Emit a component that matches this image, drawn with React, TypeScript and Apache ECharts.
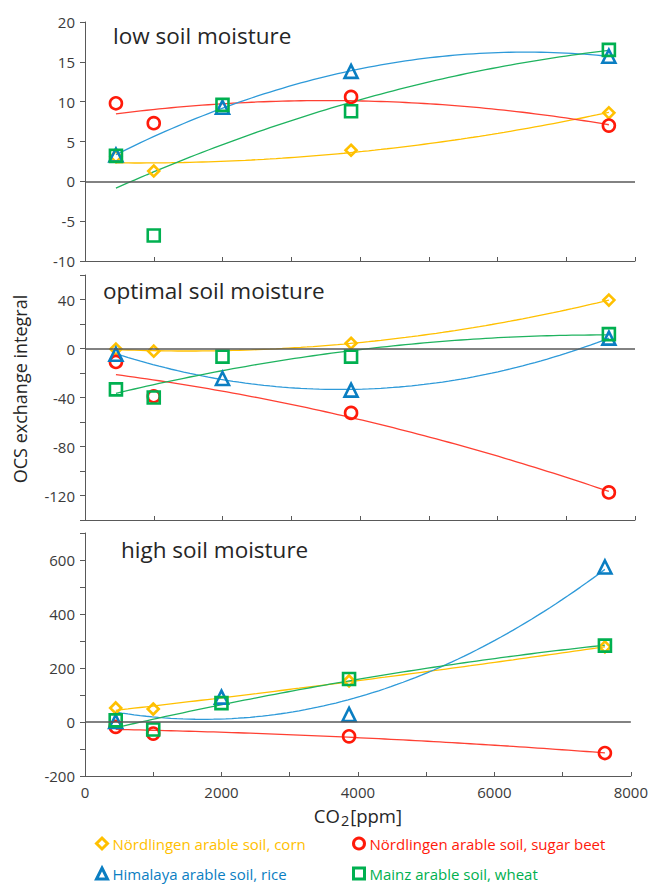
import React, { useEffect, useRef } from "react";
import * as echarts from "echarts";

// CO2 levels (ppm) at which each soil was measured
const co2Corn = [450, 1000, 3870, 7620];
const co2Beet = [450, 1000, 3870, 7620];
const co2Rice = [450, 2000, 3870, 7620];
const co2Wheat = [450, 1000, 2000, 3870, 7620];

// low soil moisture
const lowCorn = [3.1, 1.3, 3.9, 8.6];
const lowBeet = [9.8, 7.3, 10.6, 7.0];
const lowRice = [3.3, 9.3, 13.8, 15.7];
const lowWheat = [3.2, -6.8, 9.6, 8.8, 16.5];

// optimal soil moisture
const optCorn = [-0.5, -2.2, 4.3, 39.5];
const optBeet = [-11, -39, -52.6, -117.5];
const optRice = [-4.7, -24.5, -34, 8.5];
const optWheat = [-33.4, -40, -6.6, -6.6, 11.7];

// high soil moisture
const highCorn = [52, 48, 152, 278];
const highBeet = [-18, -43, -53, -115];
const highRice = [2, 92, 28, 574];
const highWheat = [6, -28, 70, 159, 283];

const panelTitles = ["low soil moisture", "optimal soil moisture", "high soil moisture"];
const xTicks = [0, 2000, 4000, 6000, 8000];

const names = [
  "Nördlingen arable soil, corn",
  "Nördlingen arable soil, sugar beet",
  "Himalaya arable soil, rice",
  "Mainz arable soil, wheat",
];

const FONT = "Open Sans";
const markerColors = ["#FFC000", "#FF1A0A", "#0A7EC2", "#00B050"];
const lineColors = ["#FFC000", "#FF4033", "#2E9AD9", "#1FB35F"];
const symbols = ["diamond", "circle", "triangle", "rect"];
const symbolSizes = [11, 12, 13, 12];

// quadratic least-squares trend line (Excel-style polynomial trendline)
function quadFit(xs: number[], ys: number[]) {
  const s = [0, 0, 0, 0, 0];
  const t = [0, 0, 0];
  xs.forEach((x0, i) => {
    const x = x0 / 1000;
    let p = 1;
    for (let k = 0; k < 5; k++) {
      s[k] += p;
      if (k < 3) t[k] += p * ys[i];
      p *= x;
    }
  });
  const M = [
    [s[0], s[1], s[2], t[0]],
    [s[1], s[2], s[3], t[1]],
    [s[2], s[3], s[4], t[2]],
  ];
  for (let c = 0; c < 3; c++) {
    let piv = c;
    for (let r = c + 1; r < 3; r++) if (Math.abs(M[r][c]) > Math.abs(M[piv][c])) piv = r;
    [M[c], M[piv]] = [M[piv], M[c]];
    for (let r = 0; r < 3; r++) {
      if (r === c) continue;
      const f = M[r][c] / M[c][c];
      for (let k = c; k < 4; k++) M[r][k] -= f * M[c][k];
    }
  }
  const a = M.map((row, i) => row[3] / row[i]);
  const xmin = Math.min(...xs);
  const xmax = Math.max(...xs);
  const out: number[][] = [];
  const N = 80;
  for (let i = 0; i <= N; i++) {
    const x = xmin + ((xmax - xmin) * i) / N;
    const u = x / 1000;
    out.push([x, a[0] + a[1] * u + a[2] * u * u]);
  }
  return out;
}

const pair = (xs: number[], ys: number[]) => xs.map((x, i) => [x, ys[i]]);

export default function App() {
  const ref = useRef<HTMLDivElement>(null);
  useEffect(() => {
    document.body.style.margin = "0";
    if (!ref.current) return;
    const chart = echarts.init(ref.current, undefined, { renderer: "svg" });
    const xsAll = [co2Corn, co2Beet, co2Rice, co2Wheat];
    const panels = [
      [lowCorn, lowBeet, lowRice, lowWheat],
      [optCorn, optBeet, optRice, optWheat],
      [highCorn, highBeet, highRice, highWheat],
    ];
    const grids = [
      { left: 85, width: 550, top: 22, height: 239 },
      { left: 85, width: 550, top: 275, height: 245 },
      { left: 85, width: 550, top: 533, height: 243 },
    ];
    const axisColor = "#595959";
    const labelStyle = { fontSize: 15, color: "#3a3a3a", fontFamily: FONT };
    const xAxis = grids.map((_, i) => ({
      type: "value",
      gridIndex: i,
      min: 0,
      max: 8000,
      interval: 1000,
      position: "bottom",
      axisLine: { show: true, onZero: false, lineStyle: { color: axisColor, width: 1 } },
      axisTick: { show: true, inside: true, length: 4, lineStyle: { color: axisColor } },
      splitLine: { show: false },
      axisLabel: {
        show: i === 2,
        ...labelStyle,
        margin: 8,
        formatter: (v: number) => (xTicks.includes(v) ? String(v) : ""),
      },
      ...(i === 2
        ? {
            name: "{a|CO}{b|2}{a|[ppm]}",
            nameLocation: "middle",
            nameGap: 27,
            nameTextStyle: {
              rich: {
                a: { fontSize: 18.5, fontFamily: FONT, color: "#262626" },
                b: { fontSize: 14.5, fontFamily: FONT, color: "#262626", padding: [10, 1, 0, 1] },
              },
            },
          }
        : {}),
    }));
    const yCfg = [
      { min: -10, max: 20, interval: 5, step: 5 },
      { min: -140, max: 60, interval: 20, step: 40 },
      { min: -200, max: 700, interval: 100, step: 200 },
    ];
    const yAxis = yCfg.map((c, i) => ({
      type: "value",
      gridIndex: i,
      min: c.min,
      max: c.max,
      interval: c.interval,
      axisLine: { show: true, lineStyle: { color: axisColor, width: 1 } },
      axisTick: { show: true, inside: false, length: 5, lineStyle: { color: axisColor } },
      splitLine: { show: false },
      axisLabel: {
        ...labelStyle,
        margin: 10,
        formatter: (v: number) => (Math.abs(v % c.step) < 1e-9 ? String(v) : ""),
      },
    }));
    const series: any[] = [];
    panels.forEach((vals, p) => {
      vals.forEach((ys, k) => {
        series.push({
          name: names[k] + " trend " + p,
          type: "line",
          xAxisIndex: p,
          yAxisIndex: p,
          data: quadFit(xsAll[k], ys),
          showSymbol: false,
          symbol: "none",
          silent: true,
          z: 2,
          lineStyle: { color: lineColors[k], width: 1.3 },
          ...(k === 0
            ? {
                markLine: {
                  silent: true,
                  symbol: ["none", "none"],
                  label: { show: false },
                  lineStyle: { color: axisColor, width: 1.5, type: "solid" },
                  data: [{ yAxis: 0 }],
                },
              }
            : {}),
        });
      });
      vals.forEach((ys, k) => {
        series.push({
          name: names[k],
          type: "scatter",
          xAxisIndex: p,
          yAxisIndex: p,
          data: pair(xsAll[k], ys),
          symbol: symbols[k],
          symbolSize: symbolSizes[k],
          z: 3,
          itemStyle: {
            color: "rgba(255,255,255,0)",
            borderColor: markerColors[k],
            borderWidth: 2.6,
            opacity: 1,
          },
        });
      });
    });
    const legendPos = [
      { left: 95, top: 836 },
      { left: 352, top: 836 },
      { left: 95, top: 866 },
      { left: 352, top: 866 },
    ];
    const legend = names.map((n, k) => ({
      left: legendPos[k].left,
      top: legendPos[k].top,
      padding: 0,
      itemWidth: 11,
      itemHeight: 11,
      selectedMode: false,
      textStyle: { fontSize: 15, fontFamily: FONT },
      data: [
        {
          name: n,
          icon: symbols[k],
          itemStyle: { color: "rgba(255,255,255,0)", borderColor: markerColors[k], borderWidth: 3 },
          textStyle: { color: markerColors[k], fontSize: 15, fontFamily: FONT },
        },
      ],
    }));
    const titlePos = [
      { x: 113, y: 35 },
      { x: 103, y: 290 },
      { x: 121, y: 549 },
    ];
    const graphic: any[] = panelTitles.map((t, i) => ({
      type: "text",
      x: titlePos[i].x,
      y: titlePos[i].y,
      silent: true,
      style: {
        text: t,
        fontSize: 22.5,
        fontFamily: FONT,
        fill: "#262626",
        verticalAlign: "middle",
        align: "left",
      },
    }));
    graphic.push({
      type: "text",
      x: 20,
      y: 389,
      rotation: Math.PI / 2,
      silent: true,
      style: {
        text: "OCS exchange integral",
        fontSize: 18,
        fontFamily: FONT,
        fill: "#262626",
        align: "center",
        verticalAlign: "middle",
      },
    });
    chart.setOption({
      animation: false,
      backgroundColor: "#ffffff",
      grid: grids,
      xAxis,
      yAxis,
      series,
      legend,
      graphic,
    });
    return () => chart.dispose();
  }, []);
  return <div ref={ref} style={{ width: 651, height: 884 }} />;
}
